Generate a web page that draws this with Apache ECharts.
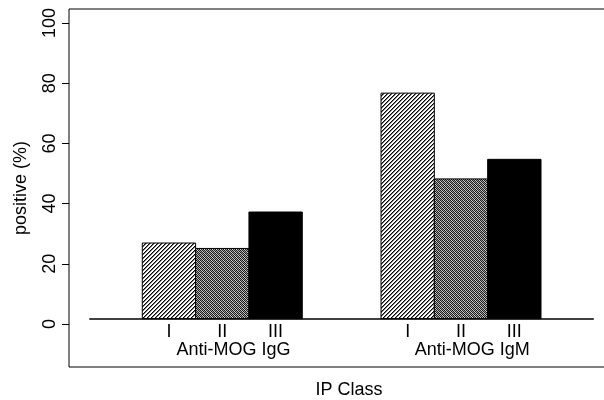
<!DOCTYPE html>
<html>
<head>
<meta charset="utf-8">
<script src="https://cdn.jsdelivr.net/npm/echarts@6/dist/echarts.min.js"></script>
<style>html,body{margin:0;padding:0;background:#fff}#c{width:604px;height:400px}</style>
</head>
<body>
<div id="c"></div>
<script>
// ---- data ----
const groups = ['Anti-MOG IgG', 'Anti-MOG IgM'];
const classes = ['I', 'II', 'III'];
const valuesI = [26.9, 76.7];
const valuesII = [25.1, 48.2];
const valuesIII = [37.2, 54.7];
const yTicks = [0, 20, 40, 60, 80, 100];

// ---- layout constants (axis units) ----
const groupStart = [1.374, 5.85];   // left edge of first bar in each group
const groupLabelShift = 0.21;
const BASE = 1.76;                  // bar baseline on the y scale
const baseFrom = 0.38, baseTo = 9.84;

function makePattern(size, shade) {
  const c = document.createElement('canvas');
  c.width = size; c.height = size;
  const ctx = c.getContext('2d');
  const img = ctx.createImageData(size, size);
  for (let y = 0; y < size; y++) for (let x = 0; x < size; x++) {
    const v = shade(x, y);
    const i = (y * size + x) * 4;
    img.data[i] = v; img.data[i+1] = v; img.data[i+2] = v; img.data[i+3] = 255;
  }
  ctx.putImageData(img, 0, 0);
  return c;
}
const patI = makePattern(4, (x, y) => { const k = (x + y) % 4; return k === 0 ? 0 : (k === 1 ? 120 : 255); });
const patII = makePattern(4, (x, y) => ((x + y) % 2) === 0 ? 30 : ((x - y + 8) % 4 === 1 ? 150 : 205));
const fills = [
  { image: patI, repeat: 'repeat' },
  { image: patII, repeat: 'repeat' },
  '#000'
];
const seriesValues = [valuesI, valuesII, valuesIII];

const barCenters = [], barLabels = [];
groups.forEach((g, gi) => classes.forEach((c, ci) => {
  barCenters.push(+(groupStart[gi] + ci + 0.5).toFixed(3));
  barLabels.push(c);
}));
const groupCenters = groups.map((g, gi) => +(groupStart[gi] + 1.5 + groupLabelShift).toFixed(3));

function lookup(vals, labs) {
  return function (v) {
    for (let i = 0; i < vals.length; i++) if (Math.abs(vals[i] - v) < 1e-6) return labs[i];
    return '';
  };
}

const FONT = 'Liberation Sans';
const FS = 18;

const series = classes.map((c, ci) => ({
  type: 'custom',
  name: c,
  xAxisIndex: 0,
  yAxisIndex: 0,
  data: groups.map((g, gi) => [groupStart[gi] + ci + 0.5, seriesValues[ci][gi]]),
  renderItem: function (params, api) {
    const x = api.value(0), v = api.value(1);
    const p0 = api.coord([x - 0.5, BASE]);
    const p1 = api.coord([x + 0.5, v]);
    return {
      type: 'rect',
      shape: { x: p0[0], y: p1[1], width: p1[0] - p0[0], height: p0[1] - p1[1] },
      style: { fill: fills[ci], stroke: '#000', lineWidth: 1 }
    };
  },
  silent: true,
  z: 3
}));
series[0].markLine = {
  symbol: 'none', silent: true, animation: false,
  label: { show: false },
  lineStyle: { color: '#000', width: 1.5, type: 'solid' },
  data: [[{ coord: [baseFrom, BASE] }, { coord: [baseTo, BASE] }]]
};

const chart = echarts.init(document.getElementById('c'), null, { renderer: 'canvas' });
chart.setOption({
  animation: false,
  backgroundColor: '#fff',
  textStyle: { fontFamily: FONT },
  grid: { left: 69, top: 9, width: 560, height: 358, outerBoundsMode: 'none', containLabel: false,
          show: true, borderColor: '#000', borderWidth: 1, backgroundColor: 'transparent' },
  xAxis: [
    {
      type: 'value', min: 0, max: 10.5, position: 'bottom', offset: -48.3,
      axisLine: { show: false }, axisTick: { show: false }, splitLine: { show: false },
      axisLabel: { customValues: barCenters, formatter: lookup(barCenters, barLabels), margin: 4, color: '#000', fontSize: FS, fontFamily: FONT }
    },
    {
      type: 'value', min: 0, max: 10.5, position: 'bottom', offset: -48.3,
      axisLine: { show: false }, axisTick: { show: false }, splitLine: { show: false },
      axisLabel: { customValues: groupCenters, formatter: lookup(groupCenters, groups), margin: 22, color: '#000', fontSize: FS, fontFamily: FONT }
    },
    {
      type: 'value', min: 0, max: 10.5, position: 'bottom', offset: 0,
      axisLine: { show: false }, axisTick: { show: false }, splitLine: { show: false },
      axisLabel: { show: false },
      name: 'IP Class', nameLocation: 'middle', nameGap: 14,
      nameTextStyle: { color: '#000', fontSize: FS, fontFamily: FONT }
    }
  ],
  yAxis: [{
    type: 'value', min: -14.29, max: 104.65,
    axisLine: { show: false },
    splitLine: { show: false },
    axisTick: { show: true, customValues: yTicks, length: 7, lineStyle: { color: '#000', width: 1 } },
    axisLabel: { customValues: yTicks, rotate: 90, margin: 10, color: '#000', fontSize: FS, fontFamily: FONT },
    name: 'positive (%)', nameLocation: 'middle', nameGap: 39,
    nameTextStyle: { color: '#000', fontSize: FS, fontFamily: FONT }
  }],
  series: series
});
</script>
</body>
</html>
